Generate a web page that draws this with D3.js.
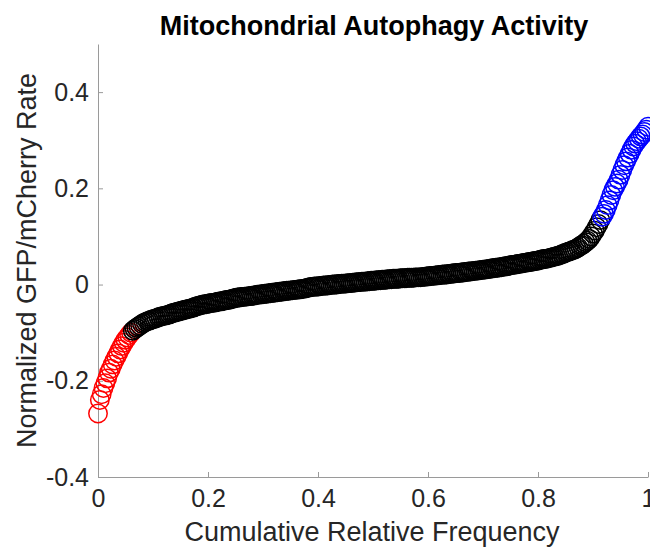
<!DOCTYPE html>
<html>
<head>
<meta charset="utf-8">
<script src="https://cdn.jsdelivr.net/npm/d3@7"></script>
<style>
  body { margin: 0; background: #fff; }
  svg { display: block; font-family: "Liberation Sans", Arial, Helvetica, sans-serif; }
</style>
</head>
<body>
<div id="chart"></div>
<script>

// sorted normalized GFP/mCherry rates (one per cell)
const rates = [
  -0.268, -0.240, -0.228, -0.215, -0.205, -0.195, -0.183, -0.175, -0.166, -0.158,
  -0.150, -0.143, -0.135, -0.128, -0.121, -0.115, -0.110, -0.105, -0.100, -0.096, -0.093,
  -0.090, -0.087, -0.085, -0.082, -0.080, -0.078, -0.076, -0.075, -0.073, -0.072,
  -0.071, -0.070, -0.068, -0.067, -0.066, -0.065, -0.064, -0.063, -0.062, -0.060,
  -0.059, -0.058, -0.057, -0.056, -0.055, -0.054, -0.053, -0.052, -0.051, -0.050,
  -0.049, -0.048, -0.046, -0.045, -0.044,
  -0.043, -0.042, -0.041, -0.041, -0.040, -0.039, -0.038, -0.038, -0.037, -0.036,
  -0.035, -0.035, -0.034, -0.033, -0.032, -0.032, -0.031, -0.030, -0.029, -0.028,
  -0.027, -0.027, -0.026, -0.026, -0.025, -0.025, -0.024, -0.024, -0.023, -0.023,
  -0.022, -0.021, -0.021, -0.020, -0.020, -0.019, -0.019, -0.018, -0.018, -0.017,
  -0.017, -0.016, -0.016, -0.015, -0.015, -0.014, -0.014, -0.013, -0.013, -0.012,
  -0.012, -0.011, -0.011, -0.010, -0.010, -0.009, -0.009, -0.008, -0.007, -0.006,
  -0.005, -0.005, -0.004, -0.004, -0.004, -0.003, -0.003, -0.002, -0.002, -0.002,
  -0.001, -0.001, 0.000, 0.000, 0.000, 0.001, 0.001, 0.002, 0.002, 0.002,
  0.003, 0.003, 0.003, 0.004, 0.004, 0.005, 0.005, 0.005, 0.006, 0.006,
  0.006, 0.007, 0.007, 0.008, 0.008, 0.008, 0.009, 0.009, 0.009, 0.010,
  0.010, 0.010, 0.011, 0.011, 0.011, 0.012, 0.012, 0.012, 0.012, 0.013,
  0.013, 0.013, 0.013, 0.014, 0.014, 0.014, 0.014, 0.015, 0.015, 0.015,
  0.015, 0.016, 0.016, 0.017, 0.017, 0.018, 0.018, 0.018, 0.019, 0.019,
  0.020, 0.020, 0.021, 0.021, 0.021, 0.022, 0.022, 0.023, 0.023, 0.024,
  0.024, 0.024, 0.025, 0.025, 0.026, 0.026, 0.027, 0.027, 0.028,
  0.028, 0.029, 0.029, 0.030, 0.030, 0.031, 0.031, 0.032, 0.032, 0.033,
  0.034, 0.034, 0.035, 0.035, 0.036, 0.036, 0.037, 0.038, 0.038, 0.039, 0.040,
  0.041, 0.041, 0.042, 0.043, 0.043, 0.044, 0.045, 0.045, 0.046, 0.047,
  0.047, 0.048, 0.049, 0.049, 0.050,
  0.051, 0.052, 0.053, 0.053, 0.054, 0.055, 0.056, 0.057, 0.058, 0.059, 0.060,
  0.061, 0.063, 0.064, 0.066, 0.067, 0.069, 0.070, 0.072, 0.073, 0.075,
  0.077, 0.080, 0.082, 0.085, 0.088, 0.091,
  0.095, 0.100, 0.106, 0.112, 0.119, 0.126,
  0.134, 0.141, 0.147,
  0.155, 0.165, 0.175, 0.186, 0.196,
  0.203, 0.210, 0.218, 0.228, 0.238, 0.248,
  0.256, 0.264, 0.272, 0.280, 0.287, 0.293,
  0.298, 0.303, 0.308, 0.312, 0.317, 0.322, 0.328
];

// cut-offs used to colour the tails
const lowCut = -0.098;
const highCut = 0.14;

const xTicks = [0, 0.2, 0.4, 0.6, 0.8, 1];
const yTicks = [-0.4, -0.2, 0, 0.2, 0.4];

const width = 650;
const height = 550;
const plotLeft = 98, plotRight = 648, plotTop = 44, plotBottom = 477;

let svg = d3.select('#chart').append('svg')
  .attr('width', width)
  .attr('height', height);

let x = d3.scaleLinear().domain([0, 1]).range([plotLeft, plotRight]);
let y = d3.scaleLinear().domain([-0.4, 0.5]).range([plotBottom, plotTop]);

let fmt = d => String(+d.toFixed(1));

// x axis
let xAxis = svg.append('g')
  .attr('transform', 'translate(0,' + plotBottom + ')')
  .call(d3.axisBottom(x).tickValues(xTicks).tickFormat(fmt)
    .tickSizeInner(-5).tickSizeOuter(0).tickPadding(12));

// y axis
let yAxis = svg.append('g')
  .attr('transform', 'translate(' + plotLeft + ',0)')
  .call(d3.axisLeft(y).tickValues(yTicks).tickFormat(fmt)
    .tickSizeInner(-5).tickSizeOuter(0).tickPadding(9));

for (let ax of [xAxis, yAxis]) {
  ax.select('.domain').attr('stroke', '#9a9a9a');
  ax.selectAll('.tick line').attr('stroke', '#9a9a9a');
  ax.selectAll('.tick text')
    .attr('fill', '#262626')
    .attr('font-size', 25)
    .attr('font-family', '"Liberation Sans", Arial, sans-serif');
}

// points: cumulative relative frequency vs rate
let points = rates.map((r, i) => ({ f: i / (rates.length - 1), r: r }));

let groups = [
  { color: '#ff0000', pts: points.filter(p => p.r < lowCut) },
  { color: '#000000', pts: points.filter(p => p.r >= lowCut && p.r < highCut) },
  { color: '#0000ff', pts: points.filter(p => p.r >= highCut) }
];

for (let g of groups) {
  svg.append('g').selectAll('circle')
    .data(g.pts)
    .join('circle')
    .attr('cx', d => x(d.f))
    .attr('cy', d => y(d.r))
    .attr('r', 9.2)
    .attr('fill', 'none')
    .attr('stroke', g.color)
    .attr('stroke-width', 1.5);
}

// title
svg.append('text')
  .text('Mitochondrial Autophagy Activity')
  .attr('x', 374)
  .attr('y', 35)
  .attr('text-anchor', 'middle')
  .attr('font-size', 27)
  .attr('font-weight', 'bold')
  .attr('fill', '#000');

// axis titles
svg.append('text')
  .text('Cumulative Relative Frequency')
  .attr('x', 372)
  .attr('y', 541)
  .attr('text-anchor', 'middle')
  .attr('font-size', 27)
  .attr('fill', '#262626');

svg.append('text')
  .text('Normalized GFP/mCherry Rate')
  .attr('transform', 'translate(36,' + ((plotTop + plotBottom) / 2) + ') rotate(-90)')
  .attr('text-anchor', 'middle')
  .attr('font-size', 27)
  .attr('fill', '#262626');

</script>
</body>
</html>
